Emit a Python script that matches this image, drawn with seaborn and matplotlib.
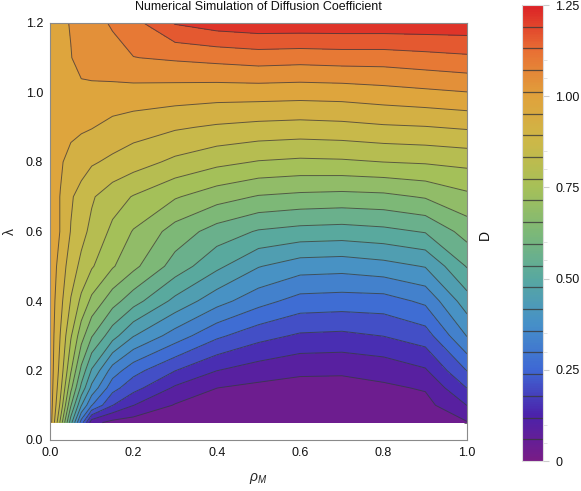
import numpy as np
import matplotlib
matplotlib.use("Agg")
import matplotlib.pyplot as plt
from matplotlib.colors import Normalize
from matplotlib.cm import ScalarMappable
from matplotlib.ticker import MultipleLocator, FixedLocator, FormatStrFormatter
import seaborn as sns

# ----------------------------
# Data
# ----------------------------
rho_m = [0.0, 0.025, 0.05, 0.075, 0.1, 0.15, 0.2, 0.3, 0.4, 0.5, 0.6, 0.7, 0.8, 0.9, 1.0]
lam = [0.05, 0.1, 0.15, 0.2, 0.3, 0.4, 0.5, 0.6, 0.7, 0.8, 0.9, 1.0, 1.1, 1.2]

# one row per lambda value, one column per rho_M value
diff_coef = [
    [0.99, 0.76, 0.50, 0.27, 0.08, 0.040, 0.03, 0.020, 0.015, 0.010, 0.010, 0.010, 0.015, 0.020, 0.055],
    [0.99, 0.82, 0.60, 0.42, 0.30, 0.18, 0.12, 0.055, 0.035, 0.025, 0.020, 0.020, 0.030, 0.040, 0.12],
    [0.99, 0.85, 0.67, 0.52, 0.40, 0.26, 0.20, 0.11, 0.060, 0.045, 0.040, 0.040, 0.050, 0.065, 0.18],
    [0.99, 0.87, 0.72, 0.58, 0.47, 0.33, 0.26, 0.18, 0.12, 0.090, 0.070, 0.068, 0.080, 0.112, 0.24],
    [0.99, 0.89, 0.78, 0.68, 0.60, 0.50, 0.42, 0.33, 0.25, 0.20, 0.17, 0.165, 0.18, 0.21, 0.36],
    [0.99, 0.91, 0.83, 0.76, 0.70, 0.62, 0.56, 0.46, 0.38, 0.32, 0.275, 0.27, 0.272, 0.31, 0.45],
    [0.99, 0.93, 0.86, 0.82, 0.78, 0.72, 0.67, 0.57, 0.49, 0.42, 0.385, 0.38, 0.395, 0.42, 0.54],
    [0.99, 0.95, 0.89, 0.85, 0.82, 0.76, 0.71, 0.63, 0.57, 0.53, 0.515, 0.51, 0.52, 0.54, 0.62],
    [0.99, 0.95, 0.90, 0.87, 0.84, 0.80, 0.77, 0.72, 0.68, 0.65, 0.64, 0.635, 0.64, 0.66, 0.70],
    [0.99, 0.96, 0.93, 0.92, 0.90, 0.88, 0.86, 0.82, 0.79, 0.77, 0.762, 0.765, 0.774, 0.78, 0.79],
    [0.99, 0.98, 0.97, 0.96, 0.955, 0.935, 0.92, 0.90, 0.885, 0.875, 0.87, 0.875, 0.885, 0.89, 0.90],
    [1.00, 1.00, 1.00, 1.00, 0.995, 0.99, 0.99, 0.985, 0.98, 0.98, 0.977, 0.98, 0.99, 1.00, 1.01],
    [1.00, 1.00, 1.01, 1.03, 1.045, 1.06, 1.07, 1.08, 1.09, 1.10, 1.095, 1.10, 1.10, 1.11, 1.12],
    [1.00, 1.00, 1.015, 1.04, 1.06, 1.075, 1.11, 1.195, 1.22, 1.23, 1.23, 1.23, 1.23, 1.23, 1.23],
]

d_min, d_max = 0.0, 1.25
n_bands = 21
cbar_ticks = [0.0, 0.25, 0.5, 0.75, 1.0, 1.25]
cbar_ticklabels = ["0", "0.25", "0.50", "0.75", "1.00", "1.25"]
cbar_minor = [0.05, 0.10, 0.30, 0.35, 0.55, 0.60, 0.80, 0.85, 1.05, 1.10]

rainbow = ["#781c86", "#4b22ab", "#3e68d4", "#4690c8", "#58a8a0", "#7cb878",
           "#a6c058", "#ccb848", "#e0a23c", "#e87034", "#dc2226"]

# ----------------------------
# Style
# ----------------------------
sns.set_theme(style="white")
plt.rcParams["font.family"] = ["Liberation Sans", "DejaVu Sans"]
plt.rcParams["mathtext.fontset"] = "custom"
plt.rcParams["mathtext.it"] = "Liberation Sans:italic"
plt.rcParams["mathtext.rm"] = "Liberation Sans"

cmap = sns.blend_palette(rainbow, as_cmap=True)
norm = Normalize(vmin=d_min, vmax=d_max)
levels = np.linspace(d_min, d_max, n_bands + 1)

X, Y = np.meshgrid(rho_m, lam)
Z = np.array(diff_coef)

fig = plt.figure(figsize=(5.81, 4.91), dpi=100)
ax = fig.add_axes([50 / 581, 51 / 491, 417 / 581, 417 / 491])

ax.contourf(X, Y, Z, levels=levels, cmap=cmap, norm=norm, zorder=1)
ax.contour(X, Y, Z, levels=levels[1:-1], colors="#3a3a3a", linewidths=0.7,
           alpha=0.75, zorder=2)

ax.set_xlim(0, 1.0)
ax.set_ylim(0, 1.2)
ax.xaxis.set_major_locator(MultipleLocator(0.2))
ax.xaxis.set_minor_locator(MultipleLocator(0.05))
ax.yaxis.set_major_locator(MultipleLocator(0.2))
ax.yaxis.set_minor_locator(MultipleLocator(0.05))
ax.xaxis.set_major_formatter(FormatStrFormatter("%.1f"))
ax.yaxis.set_major_formatter(FormatStrFormatter("%.1f"))
ax.tick_params(which="both", direction="in", top=True, right=True,
               color="#555555", labelsize=9, labelcolor="#111111")
ax.tick_params(which="major", length=4.5, width=0.7, pad=5)
ax.tick_params(which="minor", length=2.5, width=0.6)
for sp in ax.spines.values():
    sp.set_color("#8a8a8a")
    sp.set_linewidth(0.8)

ax.set_xlabel(r"$\rho_M$", fontsize=10, labelpad=9)
ax.set_ylabel("λ", fontsize=10, labelpad=6)
fig.text(258 / 581, 1 - 7 / 491, "Numerical Simulation of Diffusion Coefficient",
         ha="center", va="center", fontsize=9, color="#111111")

# ----------------------------
# Colour bar
# ----------------------------
cax = fig.add_axes([522 / 581, 30 / 491, 21 / 581, 456 / 491])
sm = ScalarMappable(norm=norm, cmap=cmap)
cbar = fig.colorbar(sm, cax=cax)
cbar.outline.set_edgecolor("#dddddd")
cbar.outline.set_linewidth(0.8)
cax.hlines(levels[1:-1], 0, 1, colors="#3a3a3a", linewidth=0.9, alpha=0.8)
cbar.set_ticks(cbar_ticks)
cbar.set_ticklabels(cbar_ticklabels)
cax.yaxis.set_minor_locator(FixedLocator(cbar_minor))
cax.tick_params(which="major", length=4, width=0.8, color="#cccccc",
                labelsize=9, labelcolor="#111111", pad=5)
cax.tick_params(which="minor", length=3, width=0.6, color="#dddddd")
fig.text(485 / 581, 1 - 235 / 491, "D", rotation=90, ha="center", va="center",
         fontsize=10, color="#111111")

fig.savefig("out.png", dpi=100)
